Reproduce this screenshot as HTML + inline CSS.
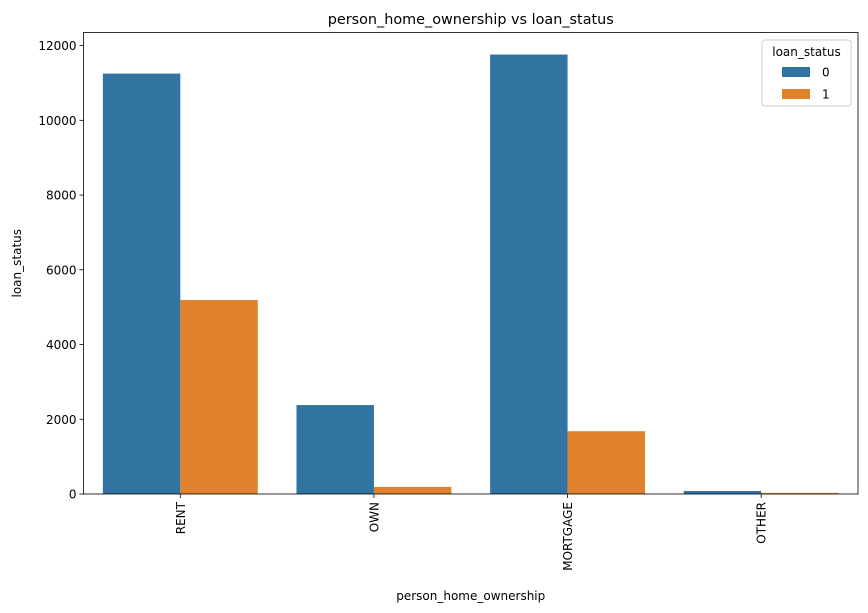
<!DOCTYPE html>
<html><head><meta charset="utf-8"><style>body{margin:0;background:#fff}svg{display:block;font-family:"DejaVu Sans","Liberation Sans",sans-serif}</style></head>
<body>
<svg id="chart" width="868" height="613"></svg>
<script>
const categories = ["RENT","OWN","MORTGAGE","OTHER"];
const status0 = [11250, 2380, 11760, 80];
const status1 = [5190, 190, 1680, 30];
const yTicks = [0,2000,4000,6000,8000,10000,12000];
const svg = document.getElementById('chart');
const NS = 'http://www.w3.org/2000/svg';
const L=83.5,R=858,T=32.5,B=494;
const yMax=12350;
const y=v=>B-(v/yMax)*(B-T);
const cw=(R-L)/categories.length;
const xc=i=>L+cw*(i+0.5);
function mk(tag,attrs,txt){const e=document.createElementNS(NS,tag);for(const k in attrs)e.setAttribute(k,attrs[k]);if(txt!==undefined)e.textContent=txt;svg.appendChild(e);return e;}
const bw=cw*0.4;
categories.forEach((c,i)=>{
  let b=mk('rect',{x:xc(i)-bw,y:y(status0[i]),width:bw,height:B-y(status0[i]),fill:'#3274a1'});
  
  
  let b2=mk('rect',{x:xc(i),y:y(status1[i]),width:bw,height:B-y(status1[i]),fill:'#e1812c'});
  
  
  mk('line',{x1:xc(i),x2:xc(i),y1:B,y2:B+4,stroke:'#000','stroke-width':0.8});
  let t=mk('text',{x:0,y:0,'font-size':12,'text-anchor':'end',transform:`translate(${xc(i)+4.5},${B+8}) rotate(-90)`},c);
  
  
});
yTicks.forEach(v=>{
  mk('line',{x1:L-4,x2:L,y1:y(v),y2:y(v),stroke:'#000','stroke-width':0.8});
  let t=mk('text',{x:L-7,y:y(v)+4.5,'font-size':12,'text-anchor':'end'},v);
  
  
});
let fr=mk('rect',{x:L,y:T,width:R-L,height:B-T,fill:'none',stroke:'#000','stroke-width':0.8});


let ti=mk('text',{x:(L+R)/2,y:24,'font-size':14.4,'text-anchor':'middle'},'person_home_ownership vs loan_status');


let xt=mk('text',{x:(L+R)/2,y:600,'font-size':12,'text-anchor':'middle'},'person_home_ownership');


let yt=mk('text',{x:0,y:0,'font-size':12,'text-anchor':'middle',transform:`translate(21,${(T+B)/2}) rotate(-90)`},'loan_status');


let lg=mk('rect',{x:762,y:40,width:89,height:66,rx:3,fill:'#fff',stroke:'#ccc','stroke-width':1});


mk('text',{x:806.5,y:56,'font-size':12,'text-anchor':'middle'},'loan_status');
[['#3274a1','0',72],['#e1812c','1',94]].forEach(([c,l,yy])=>{
  let r=mk('rect',{x:782,y:yy-5,width:28,height:10,fill:c});
  
  
  mk('text',{x:822,y:yy+4.5,'font-size':12},l);
});
</script>
</body></html>
